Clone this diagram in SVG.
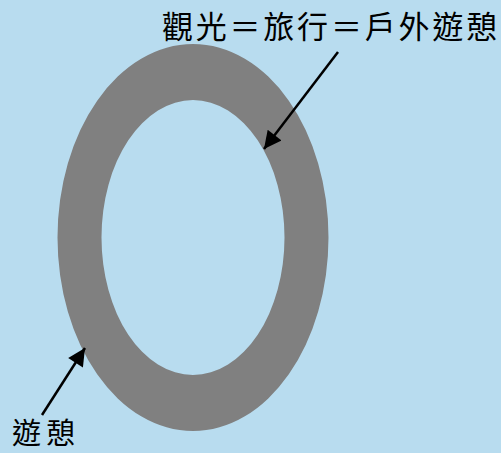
<svg xmlns="http://www.w3.org/2000/svg" width="501" height="453" viewBox="0 0 501 453">
  <defs>
    <style>
      .lbl { font-family: "Noto Sans CJK TC", "Noto Sans CJK SC", sans-serif; fill: #000; }
      .conn { stroke: #000; stroke-width: 2.5; fill: none; }
    </style>
    <marker id="ah" viewBox="0 0 10 10" refX="10" refY="5" markerWidth="8" markerHeight="7" markerUnits="strokeWidth" orient="auto">
      <path d="M0,0 L10,5 L0,10 z" fill="#000"/>
    </marker>
  </defs>
  <rect x="0" y="0" width="501" height="453" fill="#b8dcef"/>
  <g id="ring">
    <path fill="#808080" fill-rule="evenodd" d="M57.5,237.5 A135.5,193.5 0 1 0 328.5,237.5 A135.5,193.5 0 1 0 57.5,237.5 Z M101.5,237.5 A91.5,137.5 0 1 0 284.5,237.5 A91.5,137.5 0 1 0 101.5,237.5 Z"/>
  </g>
  <g id="label-top">
    <text class="lbl" x="162" y="38" font-size="31" textLength="335" lengthAdjust="spacing">觀光＝旅行＝戶外遊憩</text>
  </g>
  <g id="label-bottom">
    <text class="lbl" x="12" y="444" font-size="29" textLength="63" lengthAdjust="spacing">遊憩</text>
  </g>
  <g id="connectors">
    <line class="conn" x1="338" y1="52" x2="264" y2="149" marker-end="url(#ah)"/>
    <line class="conn" x1="42" y1="415" x2="85" y2="348" marker-end="url(#ah)"/>
  </g>
</svg>
